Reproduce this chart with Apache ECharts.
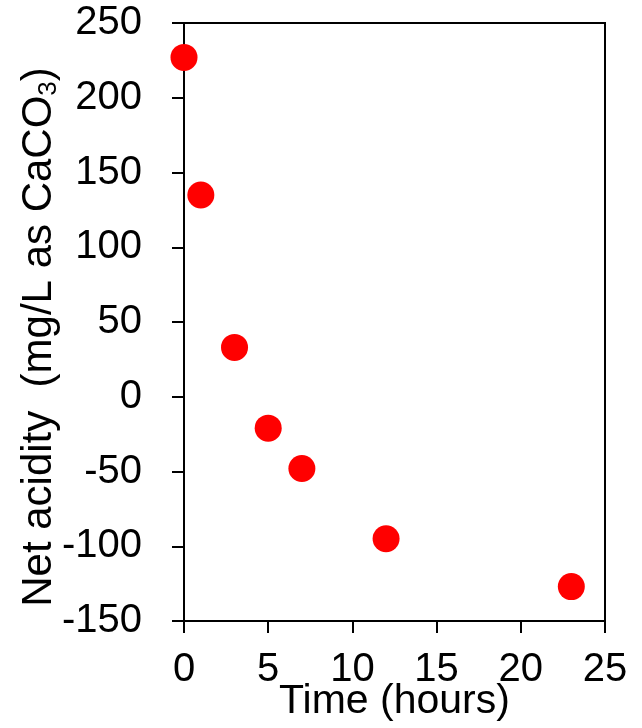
<!DOCTYPE html>
<html>
<head>
<meta charset="utf-8">
<script src="https://cdn.jsdelivr.net/npm/echarts@6/dist/echarts.min.js"></script>
<style>
  html, body { margin: 0; padding: 0; background: #fff; }
  #chart { width: 642px; height: 728px; }
</style>
</head>
<body>
<div id="chart"></div>
<script>
// data
const hours = [0, 1, 3, 5, 7, 12, 23];
const netAcidity = [227, 135, 33, -21, -48, -95, -127];

const font = '"Liberation Sans", Arial, sans-serif';
const points = hours.map((h, i) => [h, netAcidity[i]]);

const chart = echarts.init(document.getElementById('chart'));
chart.setOption({
  animation: false,
  grid: {
    left: 184, top: 23, right: 37, bottom: 107,
    outerBoundsMode: 'none',
    containLabel: false,
    show: true, borderColor: '#000', borderWidth: 2
  },
  xAxis: {
    type: 'value',
    min: 0, max: 25, interval: 5,
    name: 'Time (hours)',
    nameLocation: 'middle',
    nameGap: 60,
    nameMoveOverlap: false,
    nameTextStyle: { color: '#000', fontSize: 41, fontFamily: font },
    axisLine: { onZero: false, lineStyle: { color: '#000', width: 2 } },
    axisTick: { show: true, length: 12, inside: false, lineStyle: { color: '#000', width: 2 } },
    axisLabel: { color: '#000', fontSize: 40, fontFamily: font, margin: 29 },
    splitLine: { show: false }
  },
  yAxis: {
    type: 'value',
    min: -150, max: 250, interval: 50,
    name: '{a|Net acidity  (mg/L as CaCO}{s|3}{a|)}',
    nameLocation: 'middle',
    nameGap: 122,
    nameMoveOverlap: false,
    nameTextStyle: {
      color: '#000', fontFamily: font,
      padding: [0, 30, 0, 0],
      rich: {
        a: { fontSize: 42, lineHeight: 46, fontFamily: font, color: '#000' },
        s: { fontSize: 26, lineHeight: 26, verticalAlign: 'bottom', fontFamily: font, color: '#000' }
      }
    },
    axisLine: { show: true, lineStyle: { color: '#000', width: 2 } },
    axisTick: { show: true, length: 12, inside: false, lineStyle: { color: '#000', width: 2 } },
    axisLabel: { color: '#000', fontSize: 40, fontFamily: font, margin: 42 },
    splitLine: { show: false }
  },
  series: [{
    type: 'scatter',
    data: points,
    symbol: 'circle',
    symbolSize: 27,
    itemStyle: { color: '#ff0000', opacity: 1 }
  }]
});
</script>
</body>
</html>
